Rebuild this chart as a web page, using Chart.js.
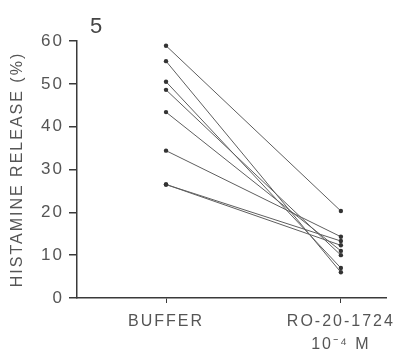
<!DOCTYPE html>
<html>
<head>
<meta charset="utf-8">
<script src="https://cdn.jsdelivr.net/npm/chart.js@4"></script>
<style>
  html, body { margin: 0; padding: 0; background: #fff; }
  canvas { display: block; }
</style>
</head>
<body>
<canvas id="c" width="393" height="351"></canvas>
<script>
// conditions on the x axis
let conditions = ["BUFFER", ["RO-20-1724", "10\u207B\u2074 M"]];
// histamine release (%) per subject, buffer vs RO-20-1724
let bufferRelease = [58.9, 55.3, 50.5, 48.6, 43.4, 34.4, 26.5, 26.5];
let roRelease = [20.3, 6.0, 7.0, 10.0, 11.0, 14.3, 13.3, 12.3];
let yTicks = [0, 10, 20, 30, 40, 50, 60];

let ink = "#3a3a3a";
let textColor = "#555";

// one line per subject
let datasets = bufferRelease.map((b, i) => ({
  data: [{x: 1, y: b}, {x: 2, y: roRelease[i]}],
  borderColor: "#5e5e5e",
  borderWidth: 1,
  pointRadius: 2.2,
  pointBackgroundColor: "#333",
  pointBorderWidth: 0
}));

// panel number + letter spacing
let extras = {
  id: "extras",
  beforeDraw(chart){
    chart.ctx.letterSpacing = "2px";
  },
  afterDraw(chart){
    let ctx = chart.ctx;
    ctx.save();
    ctx.letterSpacing = "0px";
    ctx.fillStyle = "#444";
    ctx.font = "22px 'Liberation Sans', sans-serif";
    ctx.textAlign = "left";
    ctx.textBaseline = "alphabetic";
    ctx.fillText("5", 90, 33);
    ctx.restore();
  }
};

new Chart(document.getElementById("c"), {
  type: "line",
  data: { datasets },
  plugins: [extras],
  options: {
    responsive: false,
    animation: false,
    layout: { padding: { top: 41, right: 7, left: 0, bottom: 0 } },
    plugins: { legend: { display: false }, tooltip: { enabled: false } },
    scales: {
      x: {
        type: "linear",
        min: 0.491,
        max: 2.258,
        afterBuildTicks: s => { s.ticks = [{value: 1}, {value: 2}]; },
        afterFit: s => { s.height = 53; },
        ticks: {
          autoSkip: false,
          maxRotation: 0,
          color: textColor,
          padding: 7,
          font: { size: 16, family: "'Liberation Sans', sans-serif", lineHeight: 1.45 },
          callback: v => conditions[v - 1]
        },
        grid: { drawOnChartArea: false, tickLength: 5, color: ink, lineWidth: 1 },
        border: { color: ink, width: 1.5 }
      },
      y: {
        min: 0,
        max: 60,
        afterBuildTicks: s => { s.ticks = yTicks.map(v => ({value: v})); },
        afterFit: s => { s.width = 77; },
        ticks: {
          color: textColor,
          padding: 5,
          font: { size: 17, family: "'Liberation Sans', sans-serif" }
        },
        grid: { drawOnChartArea: false, tickLength: 8, color: ink, lineWidth: 1.5 },
        border: { color: ink, width: 1.5 },
        title: {
          display: true,
          text: "HISTAMINE RELEASE (%)",
          color: textColor,
          padding: { top: 8, bottom: 0 },
          font: { size: 16, family: "'Liberation Sans', sans-serif" }
        }
      }
    }
  }
});
</script>
</body>
</html>
